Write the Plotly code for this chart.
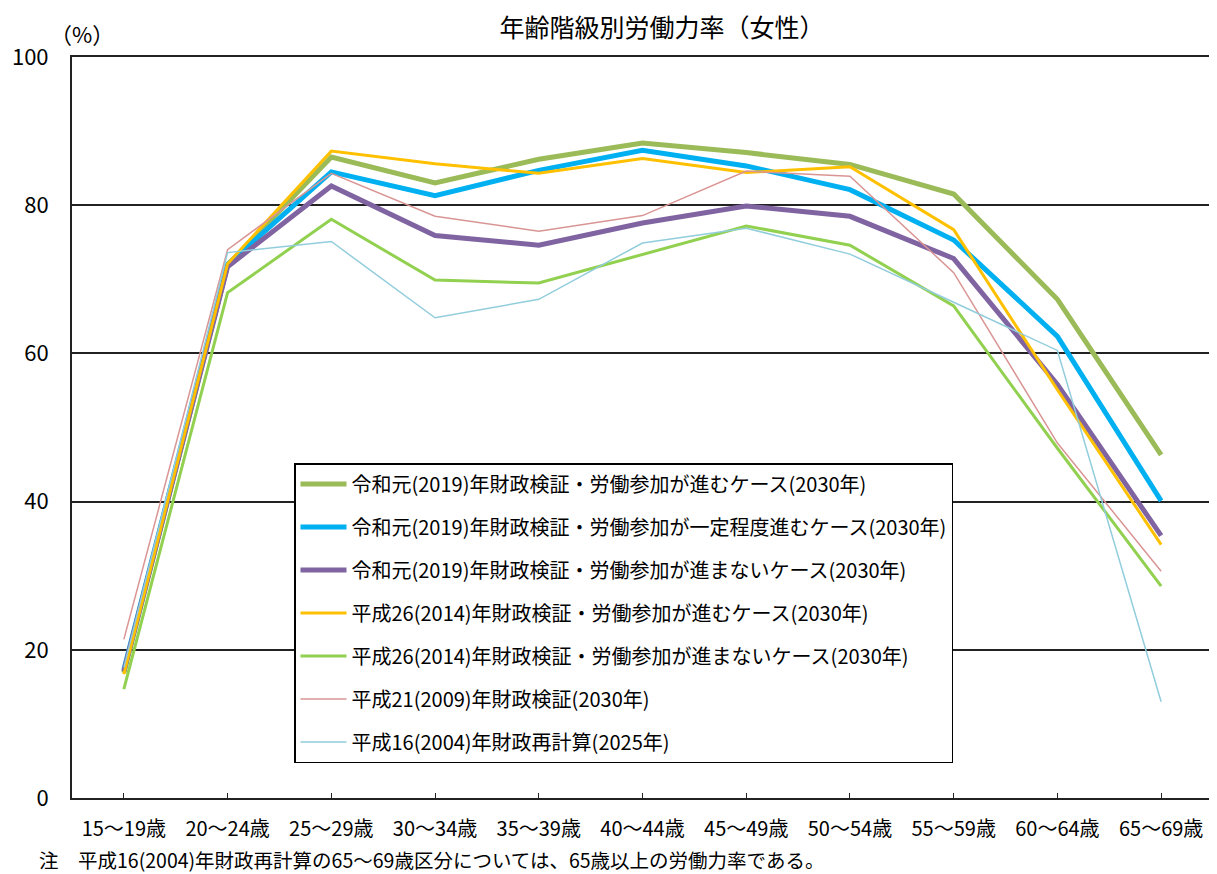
import plotly.graph_objects as go

categories = ["15～19歳", "20～24歳", "25～29歳", "30～34歳", "35～39歳", "40～44歳",
              "45～49歳", "50～54歳", "55～59歳", "60～64歳", "65～69歳"]

reiwa_progress = [16.9, 71.9, 86.5, 83.0, 86.2, 88.4, 87.1, 85.5, 81.5, 67.3, 46.3]
reiwa_partial = [17.3, 72.0, 84.5, 81.3, 84.7, 87.4, 85.3, 82.1, 75.3, 62.3, 40.1]
reiwa_none = [17.1, 71.7, 82.6, 75.9, 74.6, 77.6, 79.9, 78.5, 72.8, 55.8, 35.4]
h26_progress = [16.7, 72.1, 87.3, 85.6, 84.3, 86.3, 84.4, 85.2, 76.7, 55.1, 34.2]
h26_none = [14.7, 68.2, 78.1, 69.9, 69.5, 73.3, 77.2, 74.6, 66.4, 47.2, 28.6]
h21 = [21.4, 74.0, 84.3, 78.5, 76.5, 78.6, 84.6, 83.9, 70.9, 47.9, 30.6]
h16 = [17.6, 73.6, 75.1, 64.8, 67.3, 74.9, 76.9, 73.4, 66.9, 60.4, 13.0]

series_names = [
    "令和元(2019)年財政検証・労働参加が進むケース(2030年)",
    "令和元(2019)年財政検証・労働参加が一定程度進むケース(2030年)",
    "令和元(2019)年財政検証・労働参加が進まないケース(2030年)",
    "平成26(2014)年財政検証・労働参加が進むケース(2030年)",
    "平成26(2014)年財政検証・労働参加が進まないケース(2030年)",
    "平成21(2009)年財政検証(2030年)",
    "平成16(2004)年財政再計算(2025年)",
]
series_values = [reiwa_progress, reiwa_partial, reiwa_none, h26_progress, h26_none, h21, h16]
series_colors = ["#9BBB59", "#00B0F0", "#8064A2", "#FFC000", "#92D050", "#D99594", "#92CDDC"]
series_widths = [5, 5, 5, 3, 3, 1.5, 1.5]

FONT = "Noto Sans CJK JP, sans-serif"

# the page body has an 8px margin, so the figure is drawn 8px smaller
W, H = 1209, 866

fig = go.Figure()
for i, (name, vals, col, w) in enumerate(zip(series_names, series_values, series_colors, series_widths)):
    fig.add_trace(go.Scatter(
        x=categories, y=vals, name=name, mode="lines",
        line=dict(color=col, width=w),
        legendgroup=f"g{i}",
    ))

fig.update_layout(
    width=W, height=H,
    margin=dict(l=64, r=4, t=49, b=76, autoexpand=False),
    paper_bgcolor="white", plot_bgcolor="white",
    font=dict(family=FONT, color="black"),
    title=dict(text="年齢階級別労働力率（女性）", x=654 / W, xanchor="center",
               y=1 - 20 / H, yanchor="middle", font=dict(size=25, family=FONT)),
    showlegend=True,
    legend=dict(x=(294 - 72) / 1141, y=(798 - 463) / 741, xanchor="left", yanchor="top",
                bordercolor="black", borderwidth=1.5, bgcolor="white",
                font=dict(size=20, family=FONT), tracegroupgap=14,
                itemwidth=46),
    xaxis=dict(type="category", showgrid=False, showline=True, linecolor="#222",
               linewidth=2, mirror=True, ticks="inside", ticklen=5, tickcolor="#222",
               tickfont=dict(size=20, family=FONT), ticklabelstandoff=12,
               range=[-0.5, 10.5], automargin=False),
    yaxis=dict(range=[0, 100], dtick=20, showgrid=True, gridcolor="#222", gridwidth=1.5,
               showline=True, linecolor="#222", linewidth=2, mirror=True, ticks="",
               tickfont=dict(size=22, family=FONT), ticklabelstandoff=17,
               zeroline=False, automargin=False),
)

fig.add_annotation(text="（%）", xref="paper", yref="paper", x=(82 - 72) / 1141, y=(798 - 33) / 741,
                   xanchor="center", yanchor="middle", showarrow=False,
                   font=dict(size=22, family=FONT))
fig.add_annotation(text="注　平成16(2004)年財政再計算の65～69歳区分については、65歳以上の労働力率である。",
                   xref="paper", yref="paper", x=(37 - 72) / 1141, y=(798 - 860) / 741,
                   xanchor="left", yanchor="middle", showarrow=False,
                   font=dict(size=19.5, family=FONT))

fig.write_html("out.html")
